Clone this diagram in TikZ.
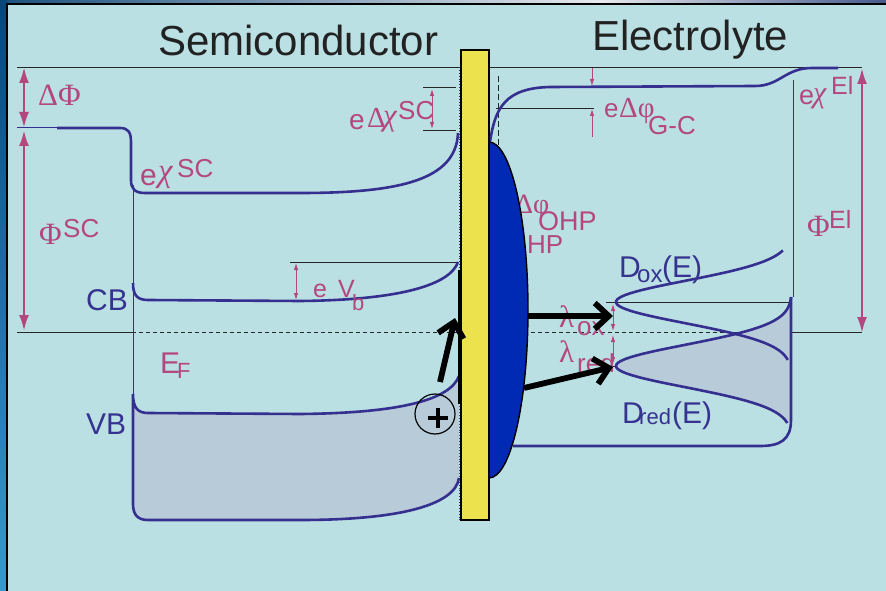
\documentclass[tikz,border=0pt]{standalone}
\usepackage{fontspec}
\setmainfont{Liberation Sans}
\newfontfamily\grk{Liberation Serif}
\usetikzlibrary{arrows.meta}
\definecolor{bg}{RGB}{186,224,227}
\definecolor{band}{RGB}{53,47,143}
\definecolor{mag}{RGB}{180,72,126}
\definecolor{lab}{RGB}{54,50,144}
\definecolor{vbfill}{RGB}{184,203,216}
\definecolor{ybar}{RGB}{236,226,78}
\definecolor{ell}{RGB}{0,41,180}
\definecolor{ttl}{RGB}{34,34,34}
\definecolor{frL}{RGB}{28,80,125}
\definecolor{frM}{RGB}{232,234,238}
\definecolor{frR}{RGB}{70,90,140}
\definecolor{lsT}{RGB}{10,70,120}
\definecolor{lsB}{RGB}{50,155,210}
\newcommand\myfs[1]{\fontsize{#1}{#1}\selectfont}
\begin{document}
\begin{tikzpicture}[x=1pt,y=-1pt,
  bandline/.style={band, line width=2.6pt},
  thinline/.style={black!85, line width=0.8pt},
  magarrow/.style={mag, line width=2.6pt, {Latex[length=16pt,width=10pt]}-{Latex[length=16pt,width=10pt]}},
  smallarrow/.style={mag, line width=0.9pt, {Latex[length=7pt,width=4.5pt]}-{Latex[length=7pt,width=4.5pt]}},
  smallone/.style={mag, line width=0.9pt, -{Latex[length=7pt,width=4.5pt]}},
  lbl/.style={inner sep=0pt, anchor=base west},
  bigarrow/.style={black, line width=5.8pt, -{Straight Barb[length=14pt,width=26pt]}}]
\useasboundingbox (0,0) rectangle (886,591);
% background and frame
\fill[bg] (0,0) rectangle (886,591);
\shade[left color=frL, right color=frM] (0,0) rectangle (600,4);
\shade[left color=frM, right color=frR] (600,0) rectangle (886,4);
\shade[top color=lsT, bottom color=lsB] (0,0) rectangle (7,591);
\draw[black, line width=1.2pt] (7,591) -- (7,4) -- (886,4);

% reference lines
\coordinate (vacL) at (17,67);  \coordinate (vacR) at (862,67);
\draw[thinline] (vacL) -- (vacR);
\coordinate (phL) at (17,128); \coordinate (phR) at (57,128);
\draw[band, line width=1pt] (phL) -- (phR);
\coordinate (efL) at (17,332); \coordinate (efM) at (132,332);
\coordinate (efD) at (790,332); \coordinate (efR) at (862,332);
\draw[thinline] (efL) -- (efM);
\draw[thinline, dash pattern=on 4pt off 3pt] (efM) -- (efD);
\draw[thinline] (efD) -- (efR);
\coordinate (cbrL) at (290,262); \coordinate (cbrR) at (458,262);
\draw[thinline] (cbrL) -- (cbrR);
\coordinate (xa1) at (423,87); \coordinate (xa2) at (456,87);
\coordinate (xb1) at (423,130); \coordinate (xb2) at (456,130);
\draw[thinline] (xa1) -- (xa2);
\draw[thinline] (xb1) -- (xb2);
\coordinate (gc1) at (496,108); \coordinate (gc2) at (594,108);
\draw[thinline] (gc1) -- (gc2);
\coordinate (ds1) at (498,76); \coordinate (ds2) at (498,147);
\draw[thinline, dash pattern=on 6pt off 3pt] (ds1) -- (ds2);
\coordinate (ox1) at (606,302); \coordinate (ox2) at (790,302);
\coordinate (rd1) at (606,366); \coordinate (rd2) at (790,366);
\draw[thinline] (ox1) -- (ox2);
\draw[thinline] (rd1) -- (rd2);
\coordinate (dt1) at (459,67); \coordinate (dt2) at (459,521);
\draw[band, line width=0.9pt, dotted] (dt1) -- (dt2);

% valence band fill
\fill[vbfill] (133,394) .. controls (133,408) and (138,413) .. (148,413) -- (300,414)
  .. controls (400,413) and (450,400) .. (459,378) -- (459,478)
  .. controls (455,505) and (400,520) .. (300,520) -- (148,520)
  .. controls (138,520) and (133,515) .. (133,504) -- cycle;
% band lines
\draw[band, line width=1pt] (133,185) -- (133,505);
\draw[bandline] (57,128) -- (120,128) .. controls (128,128) and (131,132) .. (131,142) -- (131,180)
  .. controls (131,189) and (135,193) .. (145,193) -- (300,193)
  .. controls (400,193) and (456,180) .. (458,133);
\draw[bandline] (133,283) .. controls (133,295) and (137,300) .. (148,300) -- (300,301)
  .. controls (400,300) and (450,285) .. (458,262);
\draw[bandline] (459,376) .. controls (450,400) and (400,413) .. (300,414) -- (148,413)
  .. controls (138,413) and (133,408) .. (133,394) -- (133,504)
  .. controls (133,515) and (138,520) .. (148,520) -- (300,520)
  .. controls (400,520) and (455,505) .. (459,478);

% electrolyte side
\draw[bandline] (490,142) .. controls (495,108) and (505,88) .. (550,87) -- (755,86)
  .. controls (780,86) and (785,68) .. (812,68) -- (838,68);
\draw[band, line width=1pt] (793,80) -- (793,297);
\fill[vbfill] plot[domain=-2.3:1.9, samples=70] ({616+176*(1-exp(-\x*\x))},{366+30*\x}) -- (791,423) -- (791,297) -- cycle;
\draw[bandline] plot[domain=-2.3:1.9, samples=70] ({616+176*(1-exp(-\x*\x))},{366+30*\x});
\draw[bandline] plot[domain=-1.72:1.93, samples=70] ({616+176*(1-exp(-\x*\x))},{302+30*\x});
\draw[bandline] (791,297) -- (791,420) .. controls (791,440) and (780,446) .. (760,446) -- (513,446);

% labels
\node[lbl, text=ttl, font=\myfs{42}] (tsc) at (158,56) {Semiconductor};
\node[lbl, text=ttl, font=\myfs{42}] (tel) at (592,51) {Electrolyte};
\node[lbl, text=mag, font=\grk\myfs{31}] (ldphi) at (38,106) {ΔΦ};
\node[lbl, text=mag, font=\grk\myfs{31}] (lphi) at (39,244) {Φ};
\node[lbl, text=mag, font=\myfs{26}] (lphis) at (63,237) {SC};
\node[lbl, text=mag, font=\myfs{30}] (lchie) at (140,185) {e};
\node[lbl, text=mag, font=\grk\itshape\myfs{33}] (lchi) at (158,182) {χ};
\node[lbl, text=mag, font=\myfs{26}] (lchis) at (177,177) {SC};
\node[lbl, text=lab, font=\myfs{30}] (lcb) at (86,310) {CB};
\node[lbl, text=lab, font=\myfs{30}] (lvb) at (86,434) {VB};
\node[lbl, text=mag, font=\myfs{30}] (lef) at (160,373) {E};
\node[lbl, text=mag, font=\myfs{22}] (lefs) at (177,378) {F};
\node[lbl, text=mag, font=\myfs{25}] (lvbe) at (313,297) {e};
\node[lbl, text=mag, font=\myfs{25}] (lvbv) at (338,297) {V};
\node[lbl, text=mag, font=\myfs{22}] (lvbs) at (352,310) {b};
\node[lbl, text=mag, font=\myfs{28}] (ldxe) at (349,130) {e};
\node[lbl, text=mag, font=\grk\myfs{29}] (ldxd) at (367,128) {Δ};
\node[lbl, text=mag, font=\grk\itshape\myfs{31}] (ldxc) at (383,126) {χ};
\node[lbl, text=mag, font=\myfs{26}] (ldxs) at (398,120) {SC};
\node[lbl, text=mag, font=\myfs{26}] (lgce) at (604,118) {e};
\node[lbl, text=mag, font=\grk\myfs{29}] (lgcd) at (619,118) {Δφ};
\node[lbl, text=mag, font=\myfs{26}] (lgcs) at (648,135) {G-C};
\node[lbl, text=mag, font=\myfs{27}] (lcee) at (799,105) {e};
\node[lbl, text=mag, font=\grk\itshape\myfs{30}] (lcec) at (813,103) {χ};
\node[lbl, text=mag, font=\myfs{25}] (lces) at (831,95) {El};
\node[lbl, text=mag, font=\grk\myfs{31}] (lpe) at (807,236) {Φ};
\node[lbl, text=mag, font=\myfs{25}] (lpes) at (829,228) {El};
\node[lbl, text=mag, font=\grk\myfs{28}] (lohd) at (515,213) {Δφ};
\node[lbl, text=mag, font=\myfs{27}] (lohs) at (538,230) {OHP};
\node[lbl, text=mag, font=\myfs{26}] (lih) at (527,253) {HP};
\node[lbl, text=lab, font=\myfs{30}] (ldox) at (619,277) {D};
\node[lbl, text=lab, font=\myfs{24}] (ldoxs) at (637,282) {ox};
\node[lbl, text=lab, font=\myfs{30}] (ldoxe) at (662,277) {(E)};
\node[lbl, text=lab, font=\myfs{30}] (ldrd) at (622,423) {D};
\node[lbl, text=lab, font=\myfs{22}] (ldrds) at (639,424) {red};
\node[lbl, text=lab, font=\myfs{30}] (ldrde) at (672,423) {(E)};
\node[lbl, text=mag, font=\grk\myfs{31}] (llo) at (559,327) {λ};
\node[lbl, text=mag, font=\myfs{26}] (llos) at (577,335) {ox};
\node[lbl, text=mag, font=\grk\myfs{31}] (llr) at (559,362) {λ};
\node[lbl, text=mag, font=\myfs{26}] (llrs) at (577,372) {red};

% adsorbed layer and metal/oxide bar
\begin{scope}
  \clip (489,100) rectangle (600,520);
  \draw[fill=ell, line width=1.4pt] (489,310) ellipse [x radius=39, y radius=168];
\end{scope}
\draw[fill=ybar, line width=2pt] (461,50) rectangle (489,520);
\coordinate (bk1) at (459,270); \coordinate (bk2) at (459,404);
\draw[black, line width=2.5pt] (bk1) -- (bk2);

% charge transfer arrows
\coordinate (a1s) at (528,316); \coordinate (a1e) at (613,316);
\coordinate (a2s) at (524,388); \coordinate (a2e) at (613,367);
\coordinate (a3s) at (440,382); \coordinate (a3e) at (455,318);
\draw[bigarrow] (a1s) -- (a1e);
\draw[bigarrow] (a2s) -- (a2e);
\draw[bigarrow] (a3s) -- (a3e);
% hole
\node[circle, draw=black, line width=1.2pt, minimum size=40pt, inner sep=0pt] (hole) at (435,414) {};
\draw[black, line width=3.5pt] (428,418) -- (448,418);
\draw[black, line width=3.5pt] (438,408) -- (438,428);

% magenta dimension arrows
\coordinate (m1a) at (24,67);  \coordinate (m1b) at (24,128);
\coordinate (m2a) at (24,130); \coordinate (m2b) at (24,331);
\coordinate (m3a) at (862,68); \coordinate (m3b) at (862,333);
\draw[magarrow] (m1a) -- (m1b);
\draw[magarrow] (m2a) -- (m2b);
\draw[magarrow] (m3a) -- (m3b);
\coordinate (s1a) at (296,263); \coordinate (s1b) at (296,300);
\coordinate (s2a) at (432,89);  \coordinate (s2b) at (432,129);
\coordinate (s3a) at (613,304); \coordinate (s3b) at (613,331);
\coordinate (s4a) at (613,335); \coordinate (s4b) at (613,364);
\draw[smallarrow] (s1a) -- (s1b);
\draw[smallarrow] (s2a) -- (s2b);
\draw[smallarrow] (s3a) -- (s3b);
\draw[smallarrow] (s4a) -- (s4b);
\coordinate (g1a) at (592,68);  \coordinate (g1b) at (592,86);
\coordinate (g2a) at (592,137); \coordinate (g2b) at (592,109);
\draw[smallone] (g1a) -- (g1b);
\draw[smallone] (g2a) -- (g2b);
\end{tikzpicture}
\end{document}
